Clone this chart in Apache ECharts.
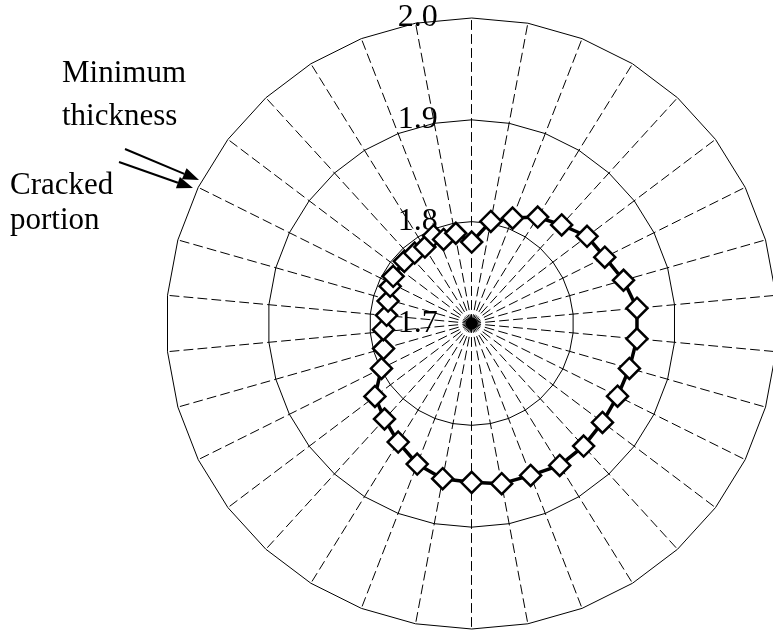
<!DOCTYPE html>
<html>
<head>
<meta charset="utf-8">
<script src="https://cdn.jsdelivr.net/npm/echarts@6/dist/echarts.min.js"></script>
<style>
  html, body { margin: 0; padding: 0; background: #fff; }
  #chart { width: 773px; height: 631px; }
</style>
</head>
<body>
<div id="chart"></div>
<script>
// Wall thickness measured around the circumference (angle in degrees, clockwise from top)
const angleDeg = [
  0, 10.6, 21.2, 31.8, 42.4, 52.9, 63.5, 74.1, 84.7,
  95.3, 105.9, 116.5, 127.1, 137.6, 148.2, 158.8, 169.4,
  180, 190.6, 201.2, 211.8, 222.4, 233, 243.5, 254.1,
  266, 275.5, 285, 294.5, 301, 312.7, 321, 328.5, 336.5, 341.5, 350
];
const thickness = [
  1.780, 1.802, 1.811, 1.823, 1.831, 1.842, 1.846, 1.855, 1.863,
  1.863, 1.861, 1.860, 1.861, 1.863, 1.864, 1.860, 1.860,
  1.856, 1.855, 1.848, 1.837, 1.827, 1.819, 1.799, 1.790,
  1.787, 1.784, 1.785, 1.788, 1.790, 1.790, 1.789, 1.788, 1.794, 1.787, 1.790
];

// Radial scale and its tick labels
const radialMin = 1.7;
const radialMax = 2.0;
const tickLabels = ['1.7', '1.8', '1.9', '2.0'];
const spokeCount = 34;

// Annotation texts
const noteMinimum = ['Minimum', 'thickness'];
const noteCrack = ['Cracked', 'portion'];

const FONT = '"Liberation Serif", "Times New Roman", serif';
const CX = 471.7, CY = 323.5, R = 305.5;

const indicators = [];
for (let i = 0; i < spokeCount; i++) indicators.push({ name: '', min: radialMin, max: radialMax });

const seriesData = angleDeg.map((a, i) => [thickness[i], a]);
// close the ring back to the starting point
seriesData.push({ value: [thickness[0], 360], symbol: 'none' });

function arrow(x1, y1, x2, y2) {
  const dx = x2 - x1, dy = y2 - y1, len = Math.hypot(dx, dy);
  const ux = dx / len, uy = dy / len, px = -uy, py = ux;
  const hl = 16, hw = 6;
  const bx = x2 - ux * hl, by = y2 - uy * hl;
  return [
    { type: 'line', shape: { x1: x1, y1: y1, x2: bx, y2: by },
      style: { stroke: '#000', lineWidth: 2 } },
    { type: 'polygon', shape: { points: [[x2, y2], [bx + px * hw, by + py * hw], [bx - px * hw, by - py * hw]] },
      style: { fill: '#000' } }
  ];
}

const textStyle = (t, x, y) => ({
  type: 'text', x: x, y: y,
  style: { text: t, font: '31px ' + FONT, fill: '#000', align: 'left', verticalAlign: 'middle' }
});

const chart = echarts.init(document.getElementById('chart'), null, { renderer: 'canvas' });
chart.setOption({
  backgroundColor: '#fff',
  animation: false,
  radar: {
    center: [CX, CY],
    radius: R,
    startAngle: 90,
    shape: 'polygon',
    splitNumber: 3,
    indicator: indicators,
    axisName: { show: false },
    axisLine: { lineStyle: { color: '#000', width: 1, type: [9, 5] } },
    axisTick: { show: false },
    axisLabel: { show: false },
    splitLine: { lineStyle: { color: '#000', width: 1 } },
    splitArea: { show: false }
  },
  polar: { center: [CX, CY], radius: R },
  angleAxis: {
    type: 'value', min: 0, max: 360, startAngle: 90, clockwise: true,
    axisLine: { show: false }, axisTick: { show: false },
    axisLabel: { show: false }, splitLine: { show: false }
  },
  radiusAxis: {
    type: 'value', min: radialMin, max: radialMax, interval: 0.1,
    axisLine: { show: false }, axisTick: { show: false }, splitLine: { show: false },
    axisLabel: {
      show: true, margin: 34, color: '#000', fontFamily: FONT, fontSize: 32,
      padding: [6, 0, 0, 0],
      formatter: (v) => tickLabels[Math.round((v - radialMin) * 10)]
    }
  },
  graphic: [
    textStyle(noteMinimum[0], 62, 74),
    textStyle(noteMinimum[1], 62, 117),
    textStyle(noteCrack[0], 10, 186),
    textStyle(noteCrack[1], 10, 221),
    ...arrow(125, 149, 199, 180),
    ...arrow(119, 162, 193, 188),
    { type: 'circle', shape: { cx: CX, cy: CY, r: 6 }, style: { fill: '#000' }, z: 1 }
  ],
  series: [
    { type: 'radar', data: [] },
    {
      type: 'line',
      coordinateSystem: 'polar',
      data: seriesData,
      symbol: 'diamond',
      symbolSize: 21,
      showSymbol: true,
      showAllSymbol: true,
      lineStyle: { color: '#000', width: 3.5 },
      itemStyle: { color: '#fff', borderColor: '#000', borderWidth: 2.5 },
      z: 5
    }
  ]
});
</script>
</body>
</html>
